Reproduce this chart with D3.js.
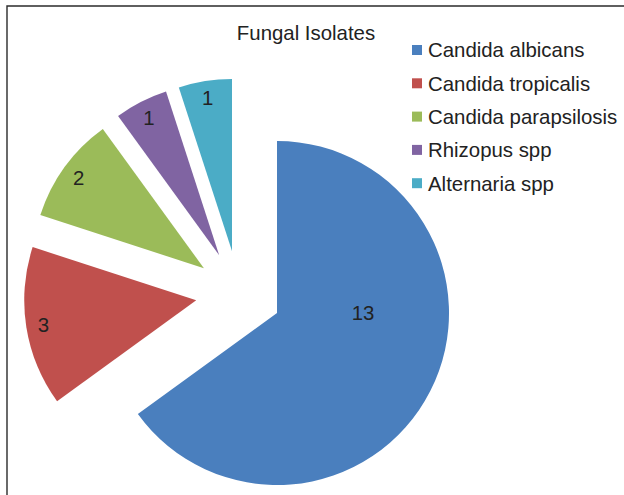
<!DOCTYPE html>
<html>
<head>
<meta charset="utf-8">
<script src="https://cdn.jsdelivr.net/npm/d3@7"></script>
<style>
  html, body { margin: 0; padding: 0; background: #fff; }
  svg { display: block; font-family: "Liberation Sans", Arial, sans-serif; }
</style>
</head>
<body>
<svg id="chart" width="624" height="495"></svg>
<script>
// Fungal isolates pie chart (exploded slices)
const categories = ['Candida albicans', 'Candida tropicalis', 'Candida parapsilosis', 'Rhizopus spp', 'Alternaria spp'];
const counts = [13, 3, 2, 1, 1];
const colors = ['#4a7fbe', '#c0504d', '#9bbb59', '#8064a2', '#4bacc6'];

const width = 624, height = 495;
const cx = 238.7, cy = 293.5;
const radius = 172;
const explode = 43;
const fontSize = 20.4;

const svg = d3.select('#chart');

// Frame: only top and left edges show in the picture
svg.append('path')
  .attr('d', `M7,${height} V6 H${width}`)
  .attr('fill', 'none')
  .attr('stroke', '#2b2b2b')
  .attr('stroke-width', 1.4);

// Title
svg.append('text')
  .attr('x', 306)
  .attr('y', 40)
  .attr('text-anchor', 'middle')
  .attr('font-size', fontSize)
  .attr('fill', '#222')
  .text('Fungal Isolates');

const pie = d3.pie().sort(null).value(d => d);
const arcs = pie(counts);
const arc = d3.arc().innerRadius(0).outerRadius(radius);

const g = svg.append('g').attr('transform', `translate(${cx},${cy})`);

const slice = g.selectAll('g.slice')
  .data(arcs)
  .enter().append('g')
  .attr('class', 'slice')
  .attr('transform', d => {
    const a = (d.startAngle + d.endAngle) / 2;
    return `translate(${explode * Math.sin(a)},${-explode * Math.cos(a)})`;
  });

slice.append('path')
  .attr('d', arc)
  .attr('fill', (d, i) => colors[i]);

// Data labels: inside end for the small slices, the big one sits to the right
slice.append('text')
  .attr('transform', d => {
    let a = (d.startAngle + d.endAngle) / 2;
    let r = radius * 0.9;
    if (d.endAngle - d.startAngle > Math.PI) {
      a = Math.PI / 2;
      r = radius * 0.5;
    }
    return `translate(${r * Math.sin(a)},${-r * Math.cos(a)})`;
  })
  .attr('text-anchor', 'middle')
  .attr('dy', '0.36em')
  .attr('font-size', fontSize)
  .attr('fill', '#222')
  .text(d => d.data);

// Legend
const legend = svg.append('g').attr('transform', 'translate(412,50)');
const item = legend.selectAll('g')
  .data(categories)
  .enter().append('g')
  .attr('transform', (d, i) => `translate(0,${i * 33.3})`);

item.append('rect')
  .attr('x', 0)
  .attr('y', -5)
  .attr('width', 10)
  .attr('height', 10)
  .attr('fill', (d, i) => colors[i]);

item.append('text')
  .attr('x', 16)
  .attr('y', 7.3)
  .attr('font-size', fontSize)
  .attr('fill', '#222')
  .text(d => d);
</script>
</body>
</html>
